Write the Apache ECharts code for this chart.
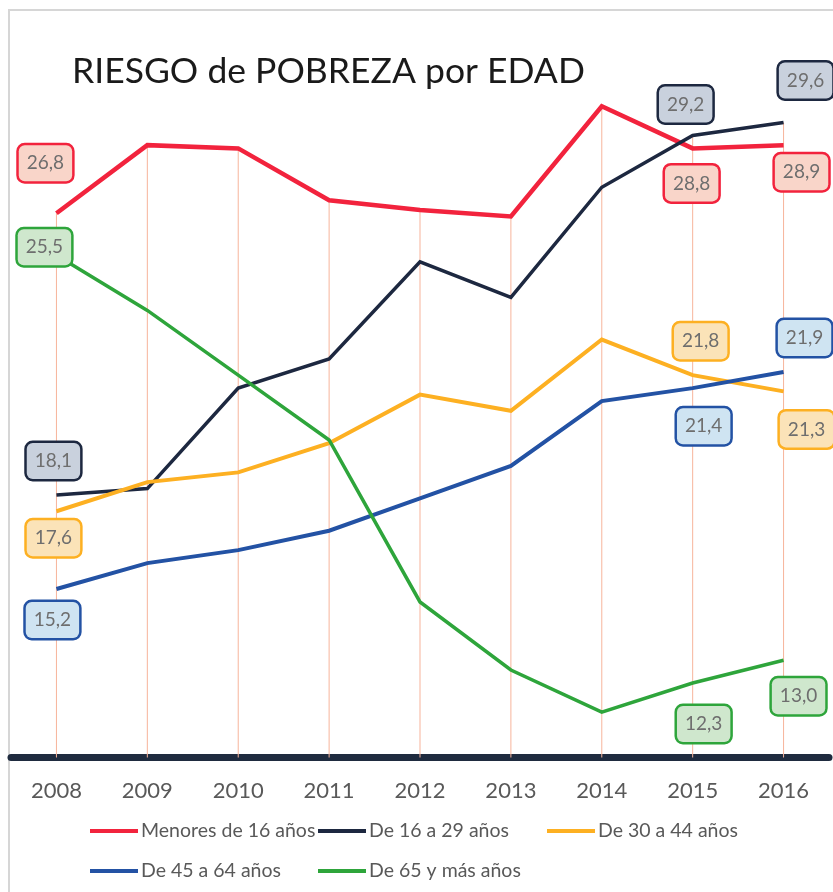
<!DOCTYPE html>
<html>
<head>
<meta charset="utf-8">
<script src="https://cdn.jsdelivr.net/npm/echarts@6/dist/echarts.min.js"></script>
<style>
  html, body { margin: 0; padding: 0; background: #fff; }
  #main { width: 833px; height: 892px; }
</style>
</head>
<body>
<div id="main"></div>
<script>
const years = ['2008', '2009', '2010', '2011', '2012', '2013', '2014', '2015', '2016']
const names = ['Menores de 16 años', 'De 16 a 29 años', 'De 30 a 44 años', 'De 45 a 64 años', 'De 65 y más años']
const menores16 = [26.8, 28.9, 28.8, 27.2, 26.9, 26.7, 30.1, 28.8, 28.9]
const de16a29 = [18.1, 18.3, 21.4, 22.3, 25.3, 24.2, 27.6, 29.2, 29.6]
const de30a44 = [17.6, 18.5, 18.8, 19.7, 21.2, 20.7, 22.9, 21.8, 21.3]
const de45a64 = [15.2, 16.0, 16.4, 17.0, 18.0, 19.0, 21.0, 21.4, 21.9]
const de65mas = [25.5, 23.8, 21.8, 19.8, 14.8, 12.7, 11.4, 12.3, 13.0]

const values = [menores16, de16a29, de30a44, de45a64, de65mas]
const colors = ['#f2233d', '#1d2840', '#fdb022', '#2352a4', '#2ea53b']
const fills = ['#f9d5c9', '#c9d1dd', '#fbe3b8', '#cfe4f2', '#cfe7cd']
const widths = [4.5, 3.5, 4, 4, 3.5]
// which points get a label box, and where the box sits relative to the point
const labelOffsets = [
  { 0: [-11, -50], 7: [-1, 35], 8: [18, 27] },
  { 0: [-3, -34], 7: [-7, -31], 8: [22, -42] },
  { 0: [-3, 27], 7: [8, -34], 8: [23, 38] },
  { 0: [-4, 31], 7: [11, 38], 8: [21, -34] },
  { 0: [-12, -8], 7: [11, 41], 8: [15, 36] }
]
// legend slots: [left, top] (legend has 5px padding)
const legendPos = [[85, 816], [313, 816], [542, 816], [85, 856], [313, 856]]

const fmt = v => v.toFixed(1).replace('.', ',')

const lineSeries = values.map((arr, s) => ({
  name: names[s],
  type: 'line',
  symbol: 'circle',
  symbolSize: 0,
  showSymbol: true,
  z: 3 + s,
  lineStyle: { color: colors[s], width: widths[s], cap: 'butt', join: 'miter' },
  itemStyle: { color: colors[s] },
  emphasis: { disabled: true },
  data: arr.map((v, i) => {
    const off = labelOffsets[s][i]
    if (!off) return v
    return {
      value: v,
      label: {
        show: true,
        position: 'inside',
        offset: off,
        formatter: p => fmt(p.value),
        fontFamily: 'Lato',
        fontSize: 19,
        color: '#6e6e6e',
        backgroundColor: fills[s],
        borderColor: colors[s],
        borderWidth: 2.5,
        borderRadius: 6,
        padding: [9, 8, 8, 8]
      }
    }
  })
}))

// drop lines from the highest point of each year down to the axis
const dropData = years.map((y, i) => Math.max(...values.map(a => a[i])))

const chart = echarts.init(document.getElementById('main'))
chart.setOption({
  backgroundColor: '#fff',
  animation: false,
  title: {
    text: 'RIESGO de POBREZA por EDAD',
    left: 67,
    top: 49,
    textStyle: { fontFamily: 'Lato', fontSize: 35.5, fontWeight: 'normal', color: '#1a1a1a' }
  },
  graphic: [{
    type: 'rect',
    shape: { x: 9, y: 10, width: 900, height: 950 },
    style: { fill: 'none', stroke: '#d6d6d6', lineWidth: 2 },
    silent: true
  }],
  legend: names.map((n, k) => ({
    data: [n],
    left: legendPos[k][0],
    top: legendPos[k][1],
    icon: 'rect',
    itemWidth: 48,
    itemHeight: 4,
    selectedMode: false,
    textStyle: { fontFamily: 'Lato', fontSize: 19.5, color: '#595959', padding: [0, 0, 0, -2] }
  })),
  grid: { left: 11, right: 4, top: 44.7, bottom: 134.5 },
  xAxis: {
    type: 'category',
    data: years,
    boundaryGap: true,
    axisLine: { lineStyle: { color: '#1f2b3f', width: 7 } },
    axisTick: { show: false },
    axisLabel: { fontFamily: 'Lato', fontSize: 22, color: '#595959', margin: 22 }
  },
  yAxis: {
    type: 'value',
    min: 10,
    max: 32,
    show: false,
    splitLine: { show: false }
  },
  series: [{
    type: 'bar',
    data: dropData,
    barWidth: 1,
    silent: true,
    z: 1,
    itemStyle: { color: '#f7b49b' }
  }].concat(lineSeries)
})
</script>
</body>
</html>
